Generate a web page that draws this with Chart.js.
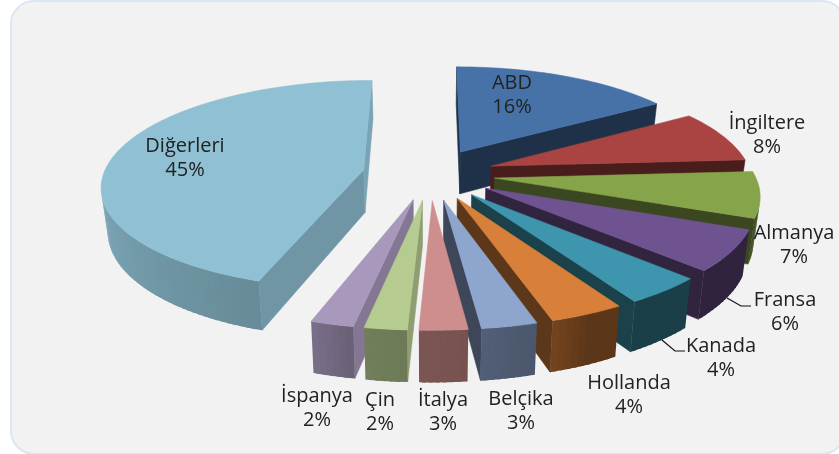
<!DOCTYPE html>
<html>
<head>
<meta charset="utf-8">
<title>Pie</title>
<script src="https://cdn.jsdelivr.net/npm/chart.js@4/dist/chart.umd.js"></script>
<style>
  html, body { margin: 0; background: #fff; overflow: hidden; }
  #panel { position: absolute; left: 10px; top: 0; width: 832px; height: 451px; box-sizing: content-box;
           background: #f2f2f2; border: 2px solid #dce6f2; border-radius: 24px; }
  #chartPay { position: absolute; left: 0; top: 0; }
</style>
</head>
<body>
<div id="panel"></div>
<canvas id="chartPay" width="839" height="454"></canvas>
<script>
const ulkeler = ['ABD', 'İngiltere', 'Almanya', 'Fransa', 'Kanada', 'Hollanda', 'Belçika', 'İtalya', 'Çin', 'İspanya', 'Diğerleri'];
const paylar = [16, 8, 7, 6.2, 4.2, 3.9, 2.9, 2.5, 2.2, 2.25, 44.85];
const renkler = ['#4672a8', '#a94442', '#86a44a', '#6f5391', '#3e96ae', '#d88039', '#8ea5ce', '#ce8e8d', '#b6cb90', '#a899bc', '#8fc0d3'];
const ayrilma = [25, 25, 25, 25, 25, 25, 25, 25, 25, 25, 26];

// label anchors (first line, centered) and leader lines, in pixels
const etiketYeri = [[512, 83], [767, 123], [794, 233], [785, 300], [721, 346], [629, 383], [521, 399], [443, 400], [380, 400], [317, 396], [185, 146]];
const kilavuzlar = [[[727, 298], [741, 306], [751, 306]], [[662, 340], [675, 351], [685, 351]]];

// projection of the tilted pie
const cx = 430, cy = 174, rx = 260, ry = 103, persp = 0.141, kalinlik = 43;

// wall brightness by angle (degrees clockwise from top)
const duvarTon = [[0, 0.5], [100, 0.55], [115, 0.42], [155, 0.42], [162, 0.52], [175, 0.58], [190, 0.62], [198, 0.72], [280, 0.92], [360, 0.9]];

function tonAl(aci) {
    for (let i = 1; i < duvarTon.length; i++) {
        if (aci <= duvarTon[i][0]) {
            const a = duvarTon[i - 1], b = duvarTon[i];
            return a[1] + (b[1] - a[1]) * (aci - a[0]) / (b[0] - a[0]);
        }
    }
    return 0.9;
}

function koyu(hex, k) {
    const n = parseInt(hex.slice(1), 16);
    return 'rgb(' + Math.round((n >> 16) * k) + ',' + Math.round(((n >> 8) & 255) * k) + ',' + Math.round((n & 255) * k) + ')';
}

function izdus(X, Y, z) {
    const s = 1 / (1 - persp * Y);
    return [cx + rx * X * s * (1 - 0.02 * z), cy + ry * Y * s + kalinlik * z * s];
}

function alan(p) {
    let t = 0;
    p.forEach((a, i) => {
        const b = p[(i + 1) % p.length];
        t += a[0] * b[1] - b[0] * a[1];
    });
    return t;
}

function doldur(ctx, p, renk, cizgi) {
    ctx.beginPath();
    p.forEach((a, i) => i ? ctx.lineTo(a[0], a[1]) : ctx.moveTo(a[0], a[1]));
    ctx.closePath();
    ctx.fillStyle = renk;
    ctx.fill();
    if (cizgi) {
        ctx.strokeStyle = renk;
        ctx.lineWidth = 0.6;
        ctx.stroke();
    }
}

function dilimCiz(ctx, arc, renk) {
    const t1 = arc.startAngle + Math.PI / 2, t2 = arc.endAngle + Math.PI / 2;
    const orta = (t1 + t2) / 2, e = arc.options.offset / 100;
    const ox = e * Math.sin(orta), oy = -e * Math.cos(orta);
    const nokta = (t, z) => izdus(ox + Math.sin(t), oy - Math.cos(t), z);
    const tepe = z => izdus(ox, oy, z);

    // cut faces
    const bas = [tepe(0), nokta(t1, 0), nokta(t1, 1), tepe(1)];
    const son = [tepe(0), nokta(t2, 0), nokta(t2, 1), tepe(1)];
    if (alan(bas) < 0) doldur(ctx, bas, koyu(renk, t1 > Math.PI ? 0.78 : 0.43), true);
    if (alan(son) > 0) doldur(ctx, son, koyu(renk, t2 > Math.PI * 1.5 ? 0.85 : 0.43), true);

    // outer wall, each strip runs a little under the next so no seams show
    const adim = Math.max(4, Math.ceil((t2 - t1) * 40));
    const dt = (t2 - t1) / adim;
    for (let i = 0; i < adim; i++) {
        const a = t1 + dt * i, b = t1 + dt * (i + 1), c = Math.min(t2, b + dt * 0.6);
        const q = [nokta(a, 0), nokta(c, 0), nokta(c, 1), nokta(a, 1)];
        if (alan([nokta(a, 0), nokta(b, 0), nokta(b, 1), nokta(a, 1)]) < 0) {
            doldur(ctx, q, koyu(renk, tonAl((a + b) / 2 * 180 / Math.PI)), false);
        }
    }

    // top
    const ust = [tepe(0)];
    for (let i = 0; i <= adim; i++) ust.push(nokta(t1 + dt * i, 0));
    doldur(ctx, ust, renk, true);
}

const pasta3d = {
    id: 'pasta3d',
    beforeDatasetDraw(chart) {
        const ctx = chart.ctx;
        const arcs = chart.getDatasetMeta(0).data;
        const sira = arcs.map((a, i) => i).sort((i, j) => {
            const m = a => (arcs[a].startAngle + arcs[a].endAngle) / 2 + Math.PI / 2;
            return Math.cos(m(j)) - Math.cos(m(i));
        });
        ctx.save();
        sira.forEach(i => dilimCiz(ctx, arcs[i], renkler[i]));
        ctx.restore();
        return false;
    },
    afterDraw(chart) {
        const ctx = chart.ctx;
        ctx.save();
        ctx.strokeStyle = '#111';
        ctx.lineWidth = 1.2;
        kilavuzlar.forEach(k => {
            ctx.beginPath();
            k.forEach((a, i) => i ? ctx.lineTo(a[0], a[1]) : ctx.moveTo(a[0], a[1]));
            ctx.stroke();
        });
        ctx.font = '20px "Open Sans"';
        ctx.fillStyle = '#222';
        ctx.textAlign = 'center';
        ctx.textBaseline = 'middle';
        ulkeler.forEach((u, i) => {
            ctx.fillText(u, etiketYeri[i][0], etiketYeri[i][1]);
            ctx.fillText(Math.round(paylar[i]) + '%', etiketYeri[i][0], etiketYeri[i][1] + 24);
        });
        ctx.restore();
    }
};

document.addEventListener('DOMContentLoaded', function () {
    new Chart(document.getElementById('chartPay'), {
        type: 'pie',
        data: {
            labels: ulkeler,
            datasets: [{
                data: paylar,
                backgroundColor: renkler,
                offset: ayrilma
            }]
        },
        options: {
            responsive: false,
            animation: false,
            plugins: {
                legend: { display: false },
                tooltip: { enabled: false }
            }
        },
        plugins: [pasta3d]
    });
});
</script>
</body>
</html>
